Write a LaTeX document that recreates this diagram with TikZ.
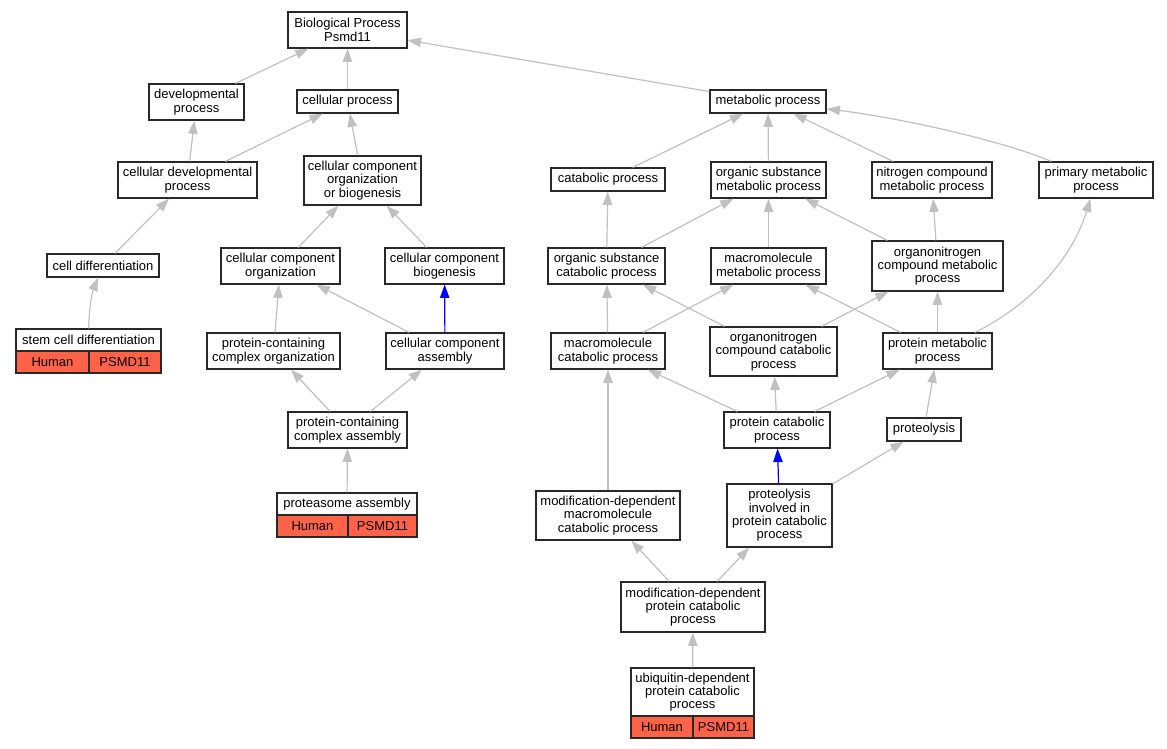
\documentclass[tikz,border=0pt]{standalone}
\usepackage{fontspec}
\setmainfont{Liberation Sans}
\usetikzlibrary{arrows.meta}
\definecolor{edgegray}{RGB}{192,192,192}
\definecolor{tomatored}{RGB}{255,99,71}
\definecolor{boxline}{RGB}{40,40,40}
\tikzset{
  box/.style={draw=boxline, line width=0.9pt, fill=white, inner sep=0pt, align=center,
    font=\fontsize{9.75pt}{10pt}\selectfont},
  cell/.style={box, fill=tomatored},
  edge/.style={color=edgegray, line width=0.9pt, -{Triangle[length=10pt,width=7pt]}},
  blueedge/.style={edge, color=blue},
}
% style, name, x1, y1, x2, y2, text  (pixel coordinates)
\newcommand\gonode[7][box]{%
  \node[#1, minimum width={(#5-#3)*0.75pt}, minimum height={(#6-#4)*0.75pt}]
    (#2) at ({(#3+#5)/2},{(#4+#6)/2}) {#7};}
\begin{document}
\begin{tikzpicture}[x=0.75pt, y=-0.75pt]
\useasboundingbox (0,0) rectangle (1167,749);
% nodes
\gonode{bp}{288}{12}{407}{48}{Biological Process\\Psmd11}
\gonode{dev}{149}{84}{244}{120}{developmental\\process}
\gonode{cp}{297}{90}{398}{113}{cellular process}
\gonode{met}{710}{90}{826}{113}{metabolic process}
\gonode{cdp}{118}{162}{257}{198}{cellular developmental\\process}
\gonode{ccob}{304}{156}{421}{205}{cellular component\\organization\\or biogenesis}
\gonode{cat}{551}{168}{665}{191}{catabolic process}
\gonode{osm}{711}{162}{826}{198}{organic substance\\metabolic process}
\gonode{ncm}{872}{162}{992}{198}{nitrogen compound\\metabolic process}
\gonode{pmp}{1039}{162}{1153}{198}{primary metabolic\\process}
\gonode{cdiff}{47}{254}{159}{277}{cell differentiation}
\gonode{cco}{221}{248}{340}{284}{cellular component\\organization}
\gonode{ccb}{385}{248}{504}{284}{cellular component\\biogenesis}
\gonode{osc}{548}{248}{665}{284}{organic substance\\catabolic process}
\gonode{mmp}{711}{248}{826}{284}{macromolecule\\metabolic process}
\gonode{onm}{872}{241}{1003}{291}{organonitrogen\\compound metabolic\\process}
\gonode{stem}{16}{329}{161}{351}{stem cell differentiation}
\gonode[cell]{stemH}{16}{351}{89}{373}{Human}
\gonode[cell]{stemP}{89}{351}{161}{373}{PSMD11}
\gonode{pcco}{207}{333}{340}{369}{protein-containing\\complex organization}
\gonode{cca}{386}{333}{504}{369}{cellular component\\assembly}
\gonode{mcp}{551}{333}{665}{369}{macromolecule\\catabolic process}
\gonode{onc}{710}{327}{837}{376}{organonitrogen\\compound catabolic\\process}
\gonode{pmet}{883}{333}{992}{369}{protein metabolic\\process}
\gonode{pcca}{288}{412}{407}{448}{protein-containing\\complex assembly}
\gonode{pcat}{724}{412}{830}{448}{protein catabolic\\process}
\gonode{ptl}{887}{418}{961}{441}{proteolysis}
\gonode{pasm}{277}{493}{417}{515}{proteasome assembly}
\gonode[cell]{pasmH}{277}{515}{348}{537}{Human}
\gonode[cell]{pasmP}{348}{515}{417}{537}{PSMD11}
\gonode{mdmc}{536}{491}{680}{540}{modification-dependent\\macromolecule\\catabolic process}
\gonode{pipc}{727}{484}{832}{547}{proteolysis\\involved in\\protein catabolic\\process}
\gonode{mdpc}{621}{582}{765}{632}{modification-dependent\\protein catabolic\\process}
\gonode{ubq}{631}{668}{754}{716}{ubiquitin-dependent\\protein catabolic\\process}
\gonode[cell]{ubqH}{631}{716}{693}{738}{Human}
\gonode[cell]{ubqP}{693}{716}{754}{738}{PSMD11}
% edges
\draw[edge] (dev) -- (bp);
\draw[edge] (cp) -- (bp);
\draw[edge] (met) -- (bp);
\draw[edge] (cdp) -- (dev);
\draw[edge] (cdp) -- (cp);
\draw[edge] (ccob) -- (cp);
\draw[edge] (cat) -- (met);
\draw[edge] (osm) -- (met);
\draw[edge] (ncm) -- (met);
\draw[edge] (pmp) .. controls (1000,140) and (900,118) .. (met);
\draw[edge] (cdiff) -- (cdp);
\draw[edge] (cco) -- (ccob);
\draw[edge] (ccb) -- (ccob);
\draw[edge] (osc) -- (cat);
\draw[edge] (osc) -- (osm);
\draw[edge] (mmp) -- (osm);
\draw[edge] (onm) -- (osm);
\draw[edge] (onm) -- (ncm);
\draw[edge] (stem) .. controls (89,305) and (93,290) .. (cdiff);
\draw[edge] (pcco) -- (cco);
\draw[edge] (cca) -- (cco);
\draw[blueedge] (cca) -- (ccb);
\draw[edge] (mcp) -- (osc);
\draw[edge] (mcp) -- (mmp);
\draw[edge] (onc) -- (osc);
\draw[edge] (onc) -- (onm);
\draw[edge] (pmet) -- (mmp);
\draw[edge] (pmet) -- (onm);
\draw[edge] (pmet) .. controls (1040,300) and (1075,250) .. (pmp);
\draw[edge] (pcca) -- (pcco);
\draw[edge] (pcca) -- (cca);
\draw[edge] (pcat) -- (mcp);
\draw[edge] (pcat) -- (onc);
\draw[edge] (pcat) -- (pmet);
\draw[edge] (ptl) -- (pmet);
\draw[edge] (pasm) -- (pcca);
\draw[edge] (mdmc) -- (mcp);
\draw[blueedge] (pipc) -- (pcat);
\draw[edge] (pipc) -- (ptl);
\draw[edge] (mdpc) -- (mdmc);
\draw[edge] (mdpc) -- (pipc);
\draw[edge] (ubq) -- (mdpc);
\end{tikzpicture}
\end{document}
